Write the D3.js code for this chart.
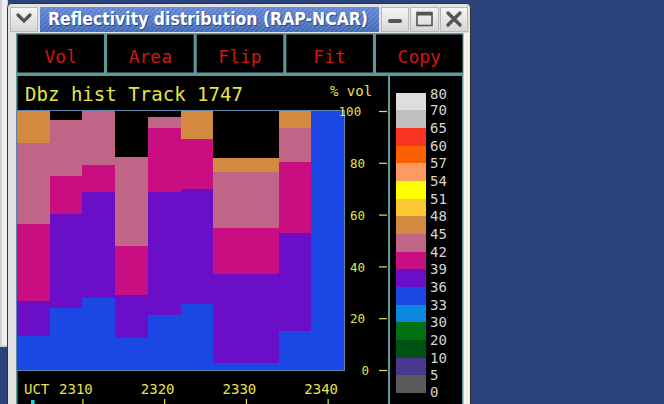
<!DOCTYPE html>
<html>
<head>
<meta charset="utf-8">
<script src="https://cdn.jsdelivr.net/npm/d3@7"></script>
<style>
  html, body { margin: 0; padding: 0; background: #2a437b; overflow: hidden; }
  svg { display: block; }
</style>
</head>
<body>
<svg id="win" width="664" height="404"></svg>
<script>
// ---- data ---------------------------------------------------------------
// start of each 4-minute step, in minutes past 23:00
const stepStarts = [2, 6, 10, 14, 18, 22, 26, 30, 34, 38];
const stepMinutes = 4;
// percent of volume in each reflectivity bin (dBZ lower edge)
const vol33 = [13.1, 23.8, 27.7, 12.5, 21.2, 25.5, 2.6, 2.6, 15.1, 100];
const vol36 = [13.5, 36.4, 40.9, 16.5, 47.4, 44.4, 34.3, 34.3, 37.7, 0];
const vol39 = [29.6, 14.8, 10.6, 18.9, 24.7, 19.3, 18.1, 18.1, 27.6, 0];
const vol42 = [31.3, 21.5, 20.8, 34.2, 4.3, 0, 21.3, 21.3, 12.9, 0];
const vol45 = [12.5, 0, 0, 0, 0, 10.8, 5.4, 5.4, 6.7, 0];
const binKeys = ["33", "36", "39", "42", "45"];

const yTickValues = [0, 20, 40, 60, 80, 100];
const xTickValues = [10, 20, 30, 40];
const cursorTime = 3.9;

const scaleLabels = ["80", "70", "65", "60", "57", "54", "51", "48", "45",
                     "42", "39", "36", "33", "30", "20", "10", "5", "0"];
const scaleColors = ["#dedede", "#c0c0c0", "#fa3222", "#fb6000", "#fc9a62",
                     "#ffff00", "#fcc832", "#d38a3e", "#c06488", "#c80e80",
                     "#6b0ec8", "#1b47e5", "#0a88de", "#007012", "#005214",
                     "#483890", "#5a5a5a"];
const buttonNames = ["Vol", "Area", "Flip", "Fit", "Copy"];

// colour of each bin taken from the scale (label below the band)
const binColor = {};
binKeys.forEach(k => { binColor[k] = scaleColors[scaleLabels.indexOf(k) - 1]; });

const rows = stepStarts.map((t, i) => ({
  t, "33": vol33[i], "36": vol36[i], "39": vol39[i], "42": vol42[i], "45": vol45[i]
}));

// ---- window chrome ------------------------------------------------------
const svg = d3.select("#win");
const mono = "'DejaVu Sans Mono', 'Liberation Mono', monospace";
const teal = "#5e9a9c";

const defs = svg.append("defs");
const hatch = defs.append("pattern").attr("id", "hatch")
  .attr("width", 5).attr("height", 5).attr("patternUnits", "userSpaceOnUse");
hatch.append("path").attr("d", "M-1,6 L6,-1 M-1,1 L1,-1 M4,6 L6,4")
  .attr("stroke", "rgba(255,255,255,0.16)").attr("stroke-width", 1.2);
const tg = defs.append("linearGradient").attr("id", "titleGrad")
  .attr("x1", 0).attr("y1", 0).attr("x2", 0).attr("y2", 1);
tg.append("stop").attr("offset", 0).attr("stop-color", "#6288d4");
tg.append("stop").attr("offset", 1).attr("stop-color", "#4168b8");
const bg = defs.append("linearGradient").attr("id", "btnGrad")
  .attr("x1", 0).attr("y1", 0).attr("x2", 0).attr("y2", 1);
bg.append("stop").attr("offset", 0).attr("stop-color", "#f6f6f6");
bg.append("stop").attr("offset", 1).attr("stop-color", "#d6d6d6");

// neighbouring window on the left edge
svg.append("rect").attr("x", 0).attr("y", 0).attr("width", 8).attr("height", 347).attr("fill", "#d0d0d0");
svg.append("rect").attr("x", 2).attr("y", 0).attr("width", 5).attr("height", 345).attr("fill", "#f0f0f0");

// frame
svg.append("rect").attr("x", 7.5).attr("y", 3.5).attr("width", 463).attr("height", 410)
  .attr("rx", 4).attr("fill", "#e2e2e2").attr("stroke", "#333").attr("stroke-width", 1);

// title bar
svg.append("rect").attr("x", 40).attr("y", 7).attr("width", 339).attr("height", 25).attr("fill", "url(#titleGrad)");
svg.append("rect").attr("x", 40).attr("y", 7).attr("width", 339).attr("height", 25).attr("fill", "url(#hatch)");
svg.append("text").attr("x", 49).attr("y", 26).attr("textLength", 320).attr("lengthAdjust", "spacingAndGlyphs")
  .attr("font-family", "'DejaVu Sans', sans-serif").attr("font-weight", "bold").attr("font-size", 17)
  .attr("fill", "#2c4680").text("Reflectivity distribution (RAP-NCAR)");
svg.append("text").attr("x", 48).attr("y", 25).attr("textLength", 320).attr("lengthAdjust", "spacingAndGlyphs")
  .attr("font-family", "'DejaVu Sans', sans-serif").attr("font-weight", "bold").attr("font-size", 17)
  .attr("fill", "#ffffff").text("Reflectivity distribution (RAP-NCAR)");

// title bar buttons
const tb = [[10, 28], [381, 28], [410, 29], [440, 28]];
svg.selectAll("rect.tbtn").data(tb).join("rect").attr("class", "tbtn")
  .attr("x", d => d[0] + 0.5).attr("y", 7.5).attr("width", d => d[1] - 1).attr("height", 24)
  .attr("fill", "url(#btnGrad)").attr("stroke", "#b8b8b8");
const ico = "#555";
svg.append("path").attr("d", "M18,15 L24,21 L30,15").attr("fill", "none")
  .attr("stroke", ico).attr("stroke-width", 3.2).attr("stroke-linecap", "round");
svg.append("rect").attr("x", 388).attr("y", 19).attr("width", 14).attr("height", 4).attr("rx", 2).attr("fill", ico);
svg.append("rect").attr("x", 417).attr("y", 12.5).attr("width", 15).attr("height", 13).attr("fill", "none")
  .attr("stroke", ico).attr("stroke-width", 1.6);
svg.append("rect").attr("x", 417).attr("y", 12).attr("width", 15).attr("height", 3.5).attr("fill", ico);
svg.append("path").attr("d", "M448,13 L460,25 M460,13 L448,25").attr("stroke", ico)
  .attr("stroke-width", 3.4).attr("stroke-linecap", "round");

// client area
svg.append("rect").attr("x", 16).attr("y", 33).attr("width", 448).attr("height", 371).attr("fill", teal);
svg.append("rect").attr("x", 463.5).attr("y", 33).attr("width", 6).attr("height", 371).attr("fill", "#f2f2f2");

// button row
const bx = d3.scaleBand().domain(buttonNames).range([17, 463]).paddingInner(0.034).paddingOuter(0.005);
const btn = svg.selectAll("g.btn").data(buttonNames).join("g").attr("class", "btn");
btn.append("rect").attr("x", d => bx(d)).attr("y", 34.5).attr("width", bx.bandwidth()).attr("height", 38).attr("fill", "#000");
btn.append("text").attr("x", d => bx(d) + bx.bandwidth() / 2).attr("y", 62.5).attr("text-anchor", "middle")
  .attr("font-family", mono).attr("font-size", 18).attr("fill", "#d41414").text(d => d);

// lower panels
svg.append("rect").attr("x", 17.5).attr("y", 76).attr("width", 370.5).attr("height", 330).attr("fill", "#000");
svg.append("rect").attr("x", 390).attr("y", 76).attr("width", 72).attr("height", 330).attr("fill", "#000");

// ---- histogram ----------------------------------------------------------
const yellow = "#e4e44c";
const x = d3.scaleLinear().domain([2, 42]).range([17, 344]);
const y = d3.scaleLinear().domain([0, 100]).range([370, 111]);

svg.append("text").attr("x", 25).attr("y", 101).attr("font-family", mono).attr("font-size", 19)
  .attr("fill", yellow).attr("textLength", 218).attr("lengthAdjust", "spacingAndGlyphs").text("Dbz hist Track 1747");
svg.append("text").attr("x", 330).attr("y", 95.5).attr("font-family", mono).attr("font-size", 14)
  .attr("fill", yellow).text("% vol");

const stacked = d3.stack().keys(binKeys)(rows);
svg.append("g").attr("shape-rendering", "crispEdges")
  .selectAll("g").data(stacked).join("g").attr("fill", s => binColor[s.key])
  .selectAll("rect").data(s => s.filter(d => d[1] > d[0])).join("rect")
  .attr("x", d => x(d.data.t))
  .attr("width", d => x(d.data.t + stepMinutes) - x(d.data.t))
  .attr("y", d => y(d[1]))
  .attr("height", d => y(d[0]) - y(d[1]));

svg.append("rect").attr("x", x(2) - 0.5).attr("y", y(100) - 0.5)
  .attr("width", x(42) - x(2) + 1).attr("height", y(0) - y(100) + 1)
  .attr("fill", "none").attr("stroke", "#5a86ac").attr("stroke-width", 1);

// percent axis
const yAxis = svg.append("g").attr("transform", "translate(387,0)")
  .call(d3.axisLeft(y).tickValues(yTickValues).tickSize(8).tickFormat(d3.format("d")));
yAxis.select(".domain").remove();
yAxis.selectAll(".tick line").attr("stroke", yellow).attr("stroke-width", 1.2);
yAxis.selectAll(".tick text").attr("fill", yellow).attr("font-family", mono).attr("font-size", 12.5)
  .attr("text-anchor", "start").attr("dy", "0.38em")
  .attr("x", function () { return -14.1 - 1.52 * this.getComputedTextLength(); });

// time axis
const xAxis = svg.append("g").attr("transform", "translate(0,404)")
  .call(d3.axisTop(x).tickValues(xTickValues).tickSize(5).tickPadding(5).tickFormat(d => "23" + d));
xAxis.select(".domain").remove();
xAxis.selectAll(".tick line").attr("stroke", yellow).attr("stroke-width", 1.2);
xAxis.selectAll(".tick text").attr("fill", yellow).attr("font-family", mono).attr("font-size", 14)
  .attr("dx", -7);
svg.append("text").attr("x", 24).attr("y", 394).attr("font-family", mono).attr("font-size", 14)
  .attr("fill", yellow).text("UCT");
svg.append("rect").attr("x", x(cursorTime) - 1.5).attr("y", 400).attr("width", 3.5).attr("height", 4).attr("fill", "#10dede");

// ---- colour scale -------------------------------------------------------
const ly = d3.scaleLinear().domain([0, scaleColors.length]).range([92.7, 393]);
svg.append("g").attr("shape-rendering", "crispEdges")
  .selectAll("rect").data(scaleColors).join("rect")
  .attr("x", 396).attr("width", 30)
  .attr("y", (c, i) => ly(i)).attr("height", (c, i) => ly(i + 1) - ly(i))
  .attr("fill", c => c);
svg.append("g").selectAll("text").data(scaleLabels).join("text")
  .attr("x", 430).attr("y", (t, i) => ly(i) + (i === 0 ? 1.3 : i === scaleLabels.length - 1 ? -1.3 : 0))
  .attr("dy", "0.36em").attr("font-family", mono).attr("font-size", 14)
  .attr("fill", "#d4d4d4").text(t => t);
</script>
</body>
</html>
